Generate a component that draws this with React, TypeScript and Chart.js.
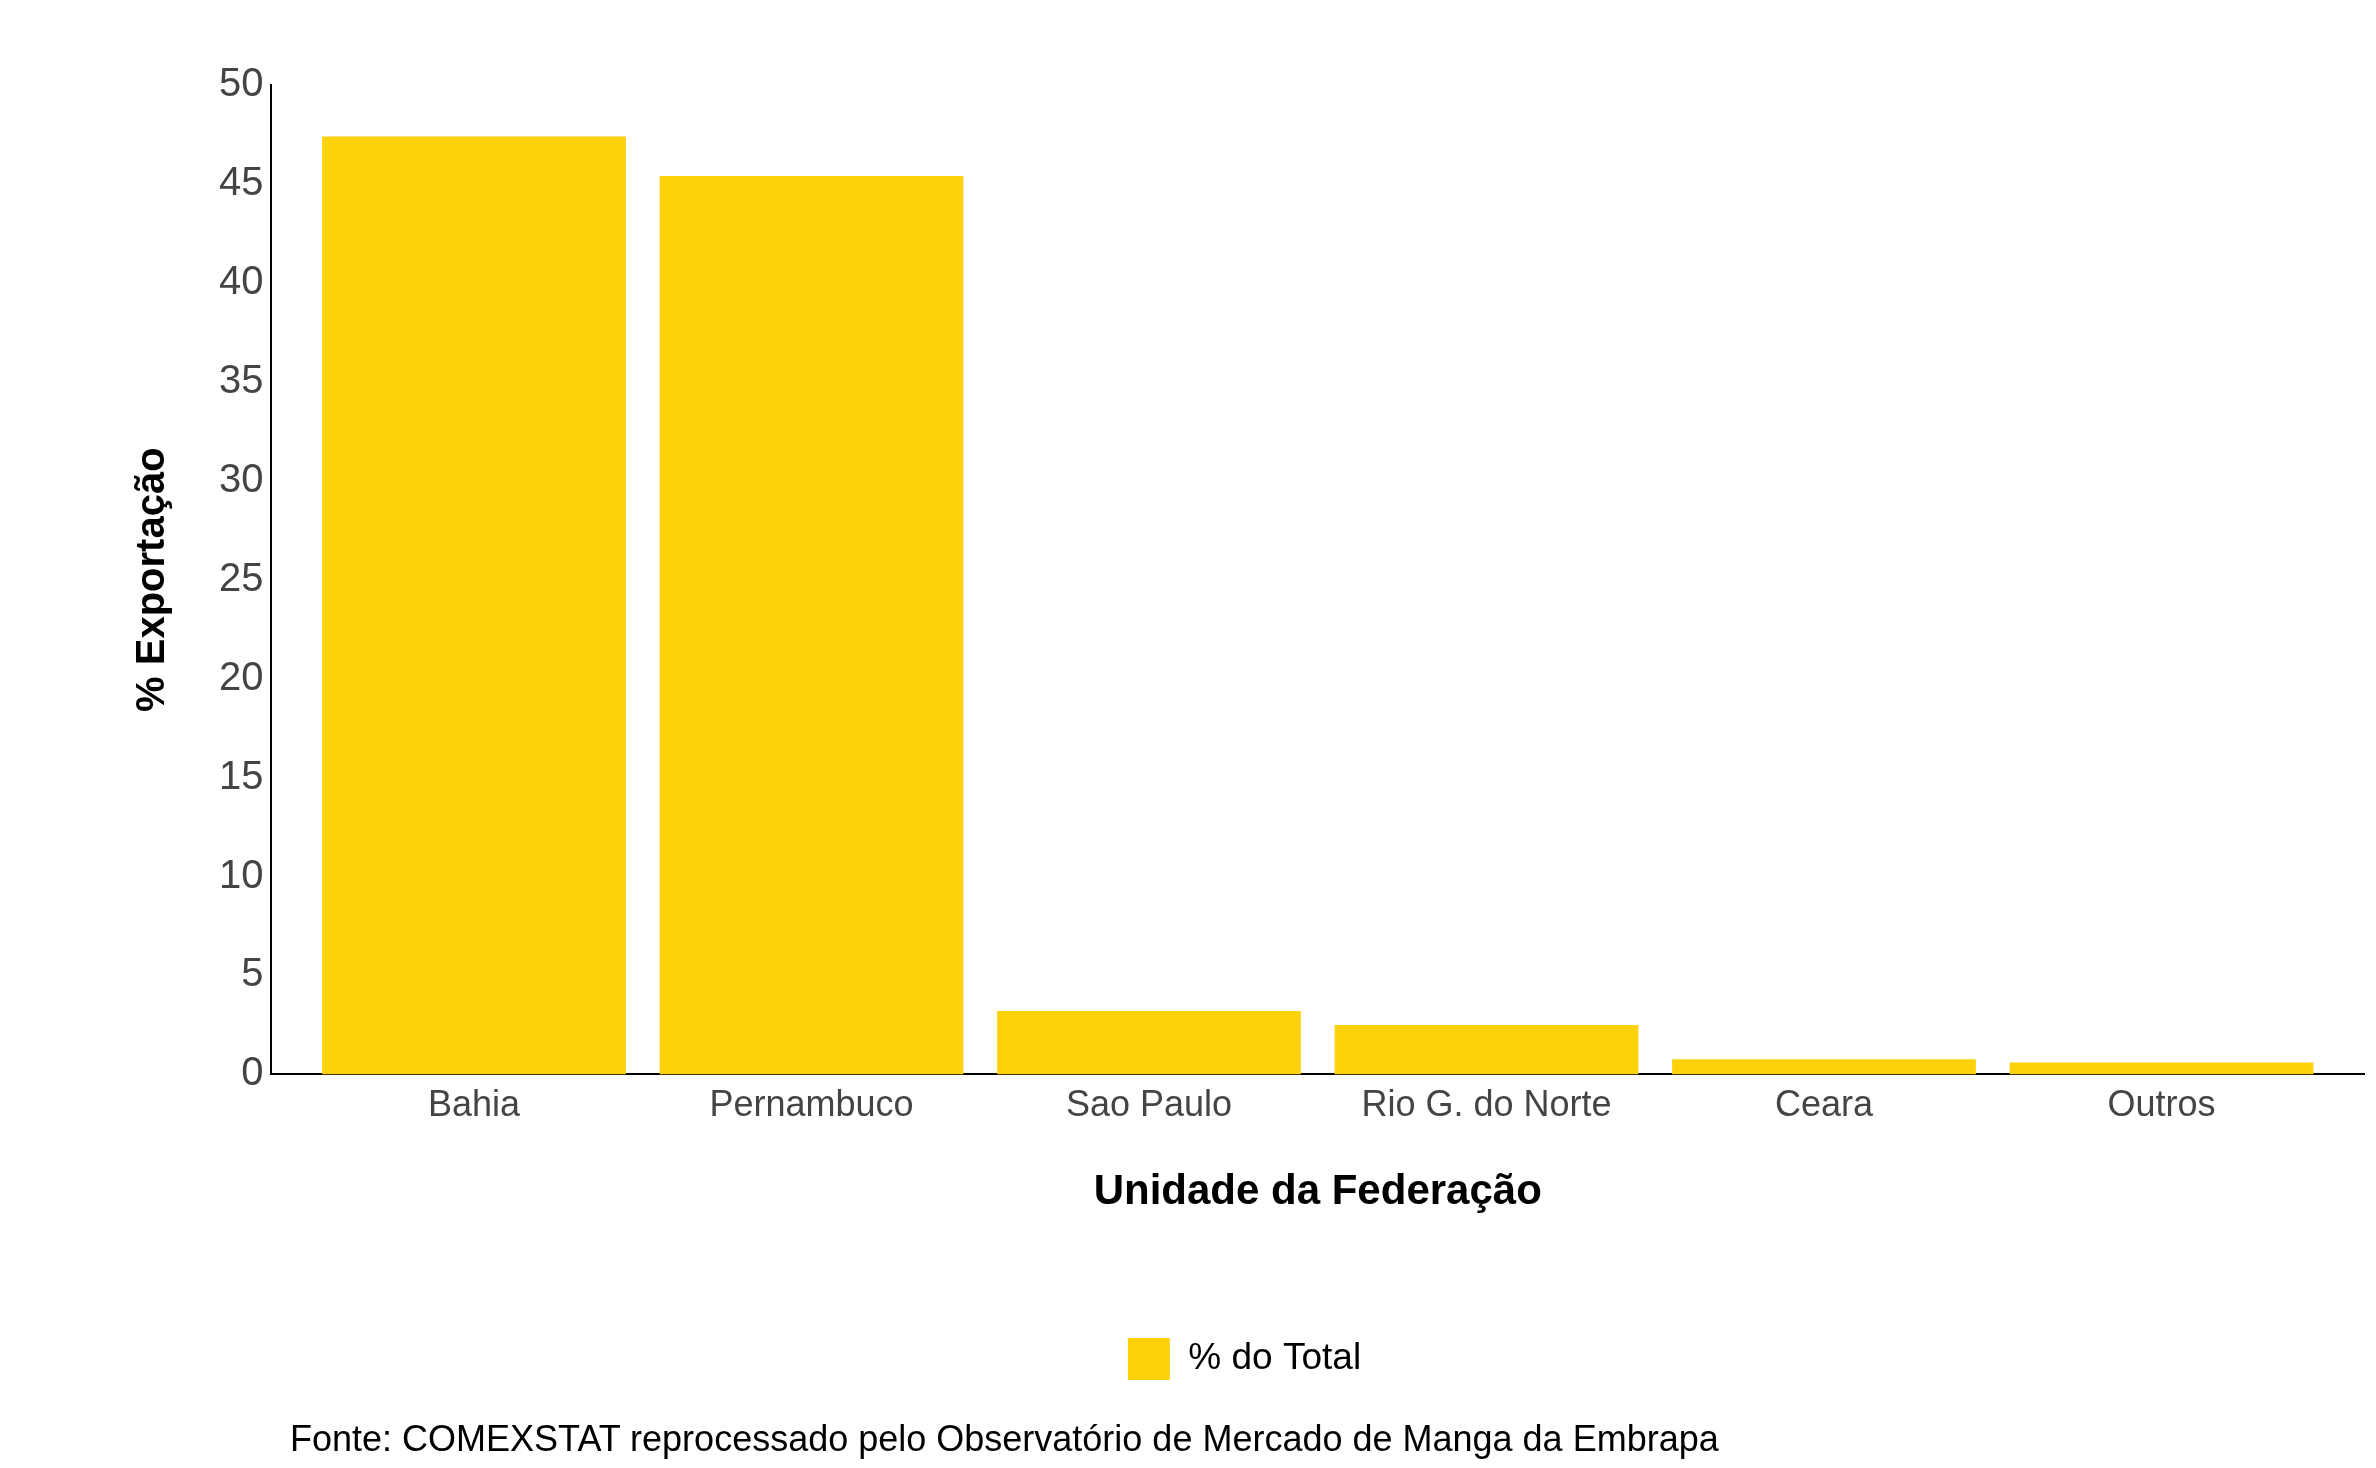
import { useEffect, useRef } from 'react'
import { Chart, registerables } from 'chart.js'

Chart.register(...registerables)

const categories = ['Bahia', 'Pernambuco', 'Sao Paulo', 'Rio G. do Norte', 'Ceara', 'Outros']
const share = [47.4, 45.4, 3.2, 2.5, 0.76, 0.6]
const yTicks = [0, 5, 10, 15, 20, 25, 30, 35, 40, 45, 50]
const caption = 'Fonte: COMEXSTAT reprocessado pelo Observatório de Mercado de Manga da Embrapa'

export default function App() {
  const canvasRef = useRef<HTMLCanvasElement>(null)

  useEffect(() => {
    if (!canvasRef.current) return
    const font = 'Liberation Sans, Arial, sans-serif'
    const chart = new Chart(canvasRef.current, {
      type: 'bar',
      data: {
        datasets: [{
          label: '% do Total',
          data: share.map((v, i) => ({ x: i, y: v })),
          backgroundColor: '#FDD20B',
          categoryPercentage: 1,
          barPercentage: 0.9
        }]
      },
      options: {
        responsive: true,
        maintainAspectRatio: false,
        animation: false,
        layout: { padding: { left: 125, right: 12, top: 85, bottom: 78 } },
        plugins: {
          tooltip: { enabled: false },
          legend: {
            position: 'bottom',
            labels: { font: { family: font, size: 37 }, color: '#000', boxWidth: 42, boxHeight: 42, padding: 20 }
          }
        },
        scales: {
          x: {
            type: 'linear',
            min: -0.6,
            max: 5.6,
            offset: false,
            afterBuildTicks: (axis: any) => { axis.ticks = categories.map((_, i) => ({ value: i })) },
            grid: { display: false, drawTicks: true, tickLength: 6, color: '#000' },
            border: { color: '#000', width: 2 },
            ticks: { font: { family: font, size: 36 }, color: '#444', padding: 4, callback: (v: any) => categories[v] ?? '' },
            title: { display: true, text: 'Unidade da Federação', font: { family: font, size: 42, weight: 'bold' }, color: '#000', padding: { top: 36, bottom: 100 } }
          },
          y: {
            min: 0,
            max: 50,
            afterBuildTicks: (axis: any) => { axis.ticks = yTicks.map(v => ({ value: v })) },
            grid: { display: false, drawTicks: true, tickLength: 6, color: '#000' },
            border: { color: '#000', width: 2 },
            ticks: { font: { family: font, size: 40 }, color: '#444', padding: 2 },
            title: { display: true, text: '% Exportação', font: { family: font, size: 40, weight: 'bold' }, color: '#000', padding: { bottom: 40 } }
          }
        }
      }
    })
    return () => { chart.destroy() }
  }, [])

  return (
    <div style={{ position: 'relative', width: 2376, height: 1468, margin: -8, background: '#fff' }}>
      <canvas ref={canvasRef} />
      <div style={{ position: 'absolute', left: 290, top: 1418, fontFamily: 'Liberation Sans, Arial, sans-serif', fontSize: 36, color: '#000' }}>
        {caption}
      </div>
    </div>
  )
}
